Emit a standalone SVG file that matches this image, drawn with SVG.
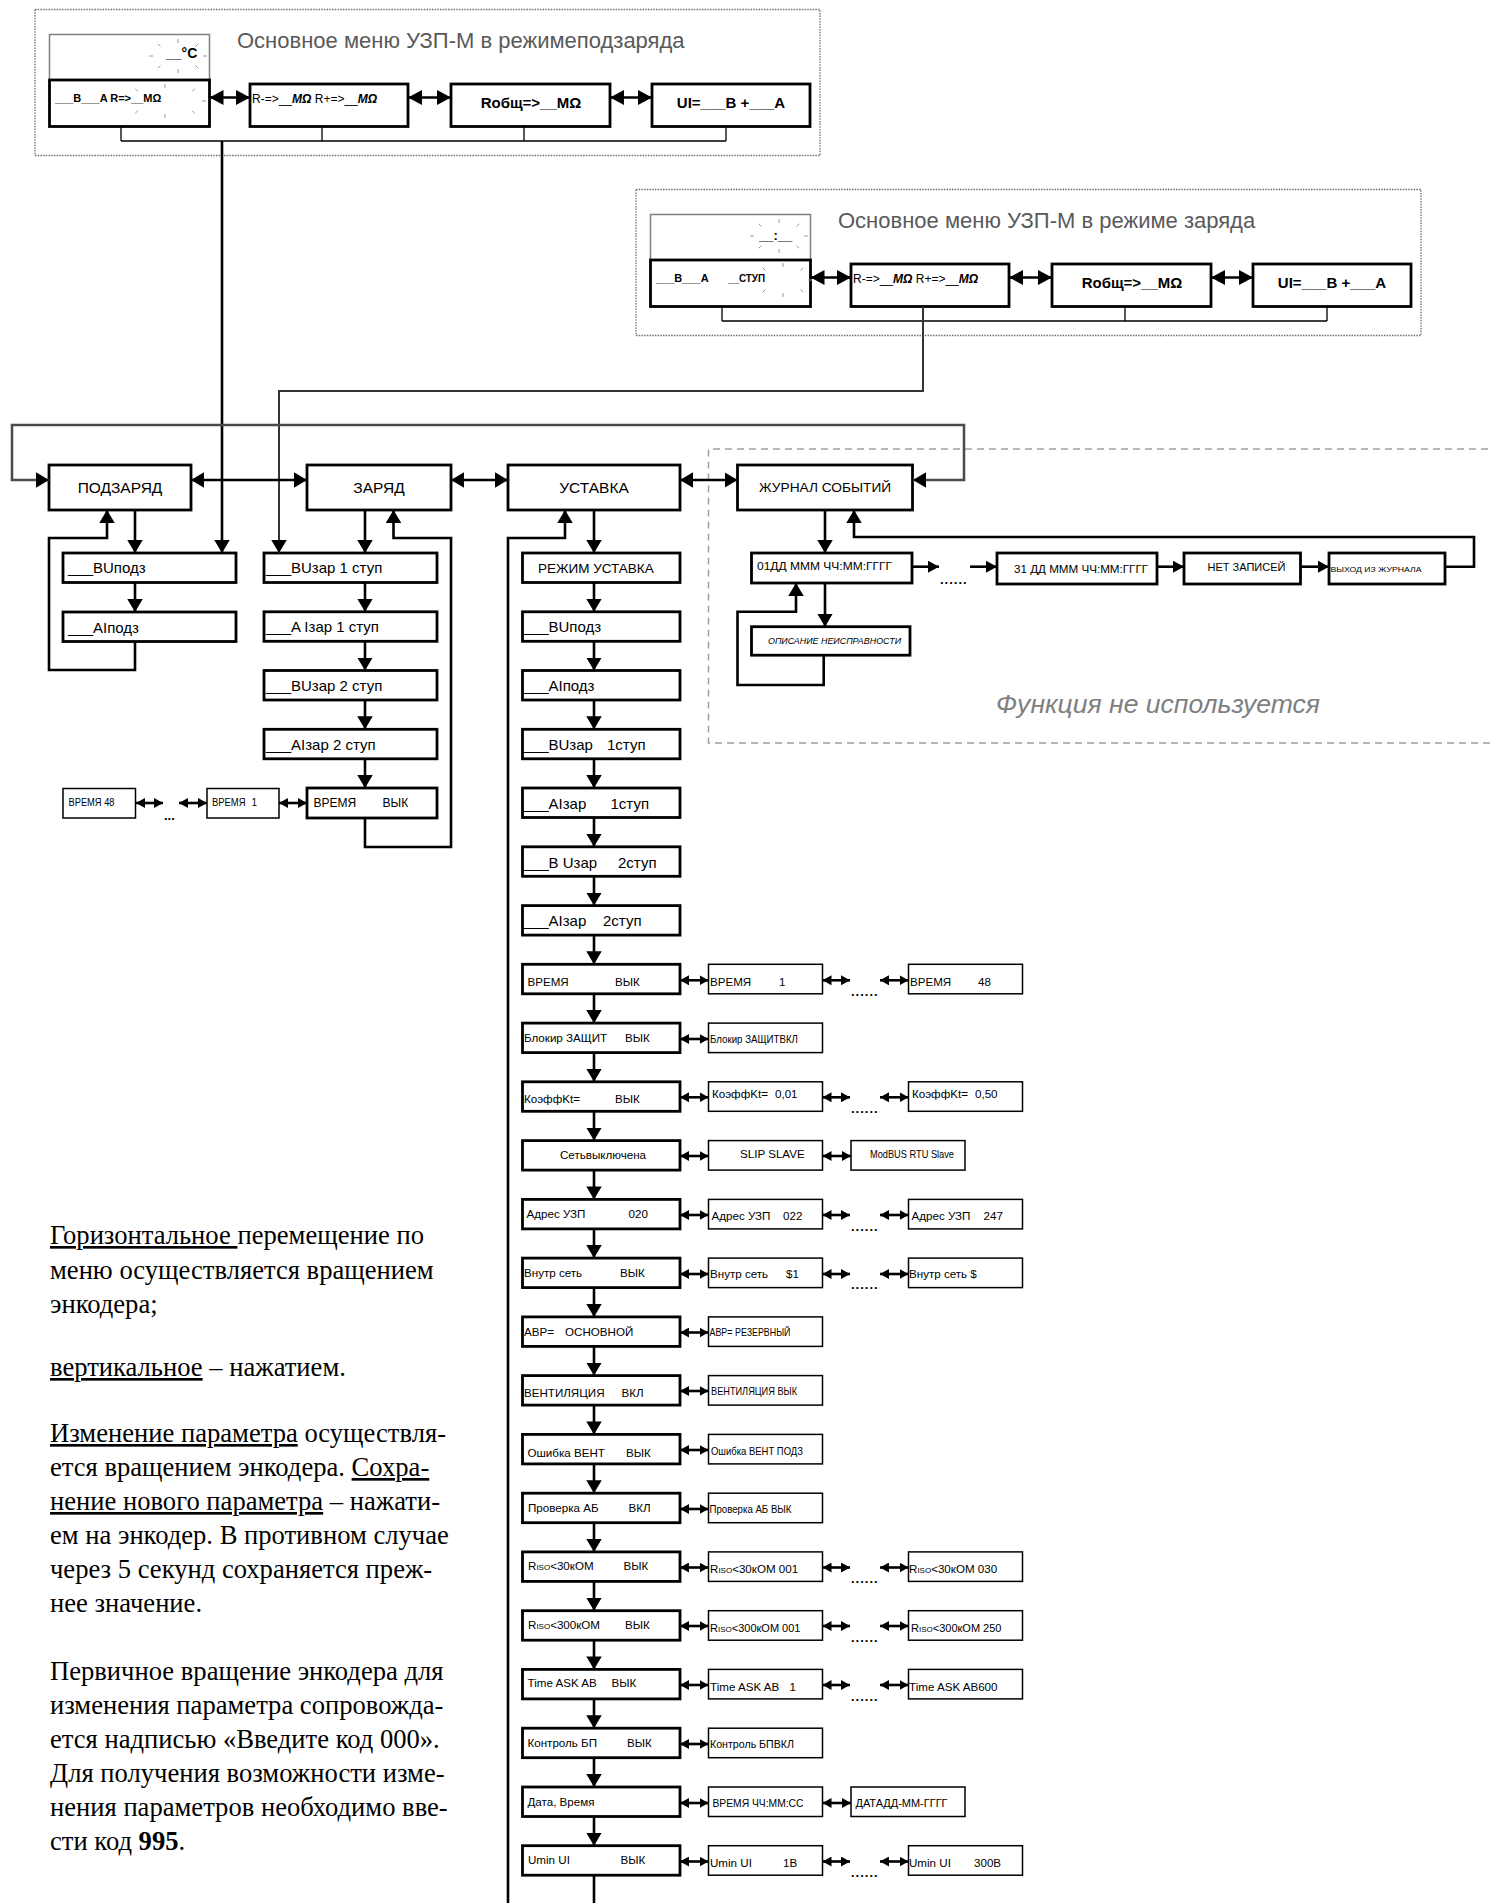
<svg xmlns="http://www.w3.org/2000/svg" width="1493" height="1903" viewBox="0 0 1493 1903">
<defs>
<style>
text{font-family:"Liberation Sans",Arial,sans-serif;fill:#000}
.bx{fill:#fff;stroke:#000;stroke-width:2.8}
.tb{fill:#fff;stroke:#000;stroke-width:1.5}
.disp{fill:#fff;stroke:#7f7f7f;stroke-width:1.5}
.frame{fill:none;stroke:#6f6f6f;stroke-width:1.3;stroke-dasharray:1.5 1.2}
.dash{fill:none;stroke:#a0a0a0;stroke-width:1.5;stroke-dasharray:7 5}
.ln{fill:none;stroke:#000;stroke-width:2.6}
.lg{fill:none;stroke:#4a4a4a;stroke-width:2.5}
.lc{fill:none;stroke:#333;stroke-width:2}
.lt{fill:none;stroke:#000;stroke-width:1.3}
.ray{fill:none;stroke:#9a9a9a;stroke-width:1}
.va{marker-end:url(#ab)}
.vb{marker-start:url(#ab);marker-end:url(#ab)}
.ds{marker-start:url(#as);marker-end:url(#as)}
.dt{marker-start:url(#at);marker-end:url(#at)}
.ja{marker-end:url(#aj)}
.title{font-size:22px;fill:#595959}
.b{font-weight:bold}
.m{font-size:11.6px}
.h{font-size:15px}
.c{font-size:11px}
.dots{font-size:13px;font-weight:bold;letter-spacing:1px}
.para{font-family:"Liberation Serif","Times New Roman",serif;font-size:26.6px}
.u{text-decoration:underline}
.sc{font-variant:small-caps}
.mid{text-anchor:middle}
</style>
<marker id="ab" viewBox="0 0 10 10" refX="10" refY="5" markerWidth="13" markerHeight="15.5" markerUnits="userSpaceOnUse" orient="auto-start-reverse" preserveAspectRatio="none"><path d="M0,0L10,5L0,10z"/></marker>
<marker id="at" viewBox="0 0 10 10" refX="10" refY="5" markerWidth="14" markerHeight="15" markerUnits="userSpaceOnUse" orient="auto-start-reverse" preserveAspectRatio="none"><path d="M0,0L10,5L0,10z"/></marker>
<marker id="as" viewBox="0 0 10 10" refX="10" refY="5" markerWidth="9" markerHeight="10" markerUnits="userSpaceOnUse" orient="auto-start-reverse" preserveAspectRatio="none"><path d="M0,0L10,5L0,10z"/></marker>
<marker id="aj" viewBox="0 0 10 10" refX="10" refY="5" markerWidth="11" markerHeight="12" markerUnits="userSpaceOnUse" orient="auto-start-reverse" preserveAspectRatio="none"><path d="M0,0L10,5L0,10z"/></marker>
<path id="rays" d="M25,0h4 M17.5,9.5l2.8,2.8 M0,13v4 M-17.5,9.5l-2.8,2.8 M-25,0h-4 M-17.5,-9.5l-2.8,-2.8 M0,-13v-4 M17.5,-9.5l2.8,-2.8"/>
<path id="rays2" d="M37,0h4 M27,9.5l2.8,2.8 M0,13v4 M-27,9.5l-2.8,2.8 M-27,-9.5l-2.8,-2.8 M0,-13v-4 M27,-9.5l2.8,-2.8"/>
</defs>
<rect width="1493" height="1903" fill="#fff"/>

<!-- Section 1: main menu, float-charge mode -->
<g id="menu-podzaryad">
<rect x="35" y="9.5" width="785" height="146" class="frame"/>
<text x="237" y="48" class="title">Основное меню УЗП-М в режимеподзаряда</text>
<g id="s1-display">
<rect x="49.5" y="34.5" width="160" height="45.5" class="disp"/>
<rect x="49.5" y="80" width="160" height="46.5" class="bx"/>
<use href="#rays" x="178" y="56" class="ray"/>
<use href="#rays2" x="165" y="101" class="ray"/>
<text x="166" y="58" class="b" font-size="14">__°C</text>
<text x="55" y="102" class="b c">___B___A R=&gt;__MΩ</text>
</g>
<g id="s1-r"><rect x="250" y="84" width="158" height="42.5" class="bx"/>
<text x="252" y="102.5" font-size="12">R-=&gt;__<tspan class="b" font-style="italic">MΩ</tspan> R+=&gt;__<tspan class="b" font-style="italic">MΩ</tspan></text></g>
<g id="s1-rtot"><rect x="451" y="84" width="159" height="42.5" class="bx"/>
<text x="531" y="108" class="b mid h">Rобщ=&gt;__MΩ</text></g>
<g id="s1-ui"><rect x="652" y="84" width="158" height="42.5" class="bx"/>
<text x="731" y="108" class="b mid h">UI=___B +___A</text></g>
</g>

<!-- Section 2: main menu, charge mode -->
<g id="menu-zaryad" transform="translate(601,180)">
<rect x="35" y="9.5" width="785" height="146" class="frame"/>
<text x="237" y="48" class="title">Основное меню УЗП-М в режиме заряда</text>
<g id="s2-display">
<rect x="49.5" y="34.5" width="160" height="45.5" class="disp"/>
<rect x="49.5" y="80" width="160" height="46.5" class="bx"/>
<use href="#rays" x="178" y="56" class="ray"/>
<use href="#rays" x="182" y="100" class="ray"/>
<text x="158" y="60" class="b" font-size="13">__:__</text>
<text x="55" y="102" class="b c">___B___A</text>
<text x="127" y="102" class="b c" textLength="37" lengthAdjust="spacingAndGlyphs">__СТУП</text>
</g>
<g id="s2-r"><rect x="250" y="84" width="158" height="42.5" class="bx"/>
<text x="252" y="102.5" font-size="12">R-=&gt;__<tspan class="b" font-style="italic">MΩ</tspan> R+=&gt;__<tspan class="b" font-style="italic">MΩ</tspan></text></g>
<g id="s2-rtot"><rect x="451" y="84" width="159" height="42.5" class="bx"/>
<text x="531" y="108" class="b mid h">Rобщ=&gt;__MΩ</text></g>
<g id="s2-ui"><rect x="652" y="84" width="158" height="42.5" class="bx"/>
<text x="731" y="108" class="b mid h">UI=___B +___A</text></g>
</g>

<!-- unused function frame -->
<g id="unused-frame">
<path d="M1500,449 H708.5 V743 H1500" class="dash"/>
<text x="996" y="713" font-size="26" font-style="italic" style="fill:#7f7f7f" textLength="324" lengthAdjust="spacingAndGlyphs">Функция не используется</text>
</g>

<!-- top-level menu -->
<g id="podzaryad"><rect x="49" y="465" width="142" height="45" class="bx"/><text x="120" y="493" class="mid" font-size="15.5">ПОДЗАРЯД</text></g>
<g id="zaryad"><rect x="307" y="465" width="144" height="45" class="bx"/><text x="379" y="493" class="mid" font-size="15.5">ЗАРЯД</text></g>
<g id="ustavka"><rect x="508" y="465" width="172" height="45" class="bx"/><text x="594" y="493" class="mid" font-size="15.5">УСТАВКА</text></g>
<g id="zhurnal"><rect x="737.5" y="465" width="175" height="45" class="bx"/><text x="825" y="492" class="mid" font-size="13.7">ЖУРНАЛ СОБЫТИЙ</text></g>

<!-- ПОДЗАРЯД branch -->
<g id="pz-u"><rect x="63" y="553" width="173" height="29.5" class="bx"/><text x="68" y="573" class="h">___BUподз</text></g>
<g id="pz-i"><rect x="63" y="612" width="173" height="29.5" class="bx"/><text x="68" y="632.5" class="h">___AIподз</text></g>

<!-- ЗАРЯД branch -->
<g id="z-u1"><rect x="264" y="553" width="173" height="29.5" class="bx"/><text x="266" y="573" class="h">___BUзар 1 ступ</text></g>
<g id="z-i1"><rect x="264" y="611.8" width="173" height="29.5" class="bx"/><text x="266" y="632" class="h">___A Iзар 1 ступ</text></g>
<g id="z-u2"><rect x="264" y="670.5" width="173" height="29.5" class="bx"/><text x="266" y="691" class="h">___BUзар 2 ступ</text></g>
<g id="z-i2"><rect x="264" y="729.3" width="173" height="29.5" class="bx"/><text x="266" y="750" class="h">___AIзар 2 ступ</text></g>
<g id="z-time"><rect x="307" y="788" width="130" height="30" class="bx"/><text x="313.5" y="807" font-size="12">ВРЕМЯ</text><text x="382.5" y="807" font-size="12">ВЫК</text></g>
<g id="z-time1"><rect x="207" y="788.5" width="72" height="29.5" class="tb"/><text x="212" y="806" font-size="10" textLength="33.5" lengthAdjust="spacingAndGlyphs">ВРЕМЯ</text><text x="251.5" y="806" font-size="10">1</text></g>
<g id="z-time48"><rect x="63" y="788.5" width="72.5" height="29.5" class="tb"/><text x="68.5" y="806" font-size="10" textLength="46" lengthAdjust="spacingAndGlyphs">ВРЕМЯ 48</text></g>
<text x="164" y="820" class="b" font-size="13">...</text>

<!-- УСТАВКА branch -->
<g id="u0"><rect x="522.5" y="553" width="157.5" height="29.5" class="bx"/><text x="538" y="573" font-size="13.5">РЕЖИМ УСТАВКА</text></g>
<g id="u1"><rect x="522.5" y="611.8" width="157.5" height="29.5" class="bx"/><text x="523.5" y="632" class="h">___BUподз</text></g>
<g id="u2"><rect x="522.5" y="670.5" width="157.5" height="29.5" class="bx"/><text x="523.5" y="691" class="h">___AIподз</text></g>
<g id="u3"><rect x="522.5" y="729.3" width="157.5" height="29.5" class="bx"/><text x="523.5" y="750" class="h">___BUзар</text><text x="607" y="750" class="h">1ступ</text></g>
<g id="u4"><rect x="522.5" y="788" width="157.5" height="29.5" class="bx"/><text x="523.5" y="808.5" class="h">___AIзар</text><text x="610.5" y="808.5" class="h">1ступ</text></g>
<g id="u5"><rect x="522.5" y="846.8" width="157.5" height="29.5" class="bx"/><text x="523.5" y="867.5" class="h">___B Uзар</text><text x="618" y="867.5" class="h">2ступ</text></g>
<g id="u6"><rect x="522.5" y="905.6" width="157.5" height="29.5" class="bx"/><text x="523.5" y="926" class="h">___AIзар</text><text x="603" y="926" class="h">2ступ</text></g>

<g id="u7"><rect x="522.5" y="964.3" width="157.5" height="29.5" class="bx"/><text x="527.5" y="986" class="m">ВРЕМЯ</text><text x="615" y="986" class="m">ВЫК</text></g>
<g id="u7a"><rect x="708.5" y="964.3" width="114" height="29.5" class="tb"/><text x="710" y="986" class="m">ВРЕМЯ</text><text x="779" y="986" class="m">1</text></g>
<g id="u7b"><rect x="908.5" y="964.3" width="114" height="29.5" class="tb"/><text x="910" y="986" class="m">ВРЕМЯ</text><text x="978" y="986" class="m">48</text></g>
<text x="851" y="995.5" class="dots">......</text>

<g id="u8"><rect x="522.5" y="1023.1" width="157.5" height="29.5" class="bx"/><text x="524" y="1041.6" class="m">Блокир ЗАЩИТ</text><text x="625" y="1041.6" class="m">ВЫК</text></g>
<g id="u8a"><rect x="708.5" y="1023.1" width="114" height="29.5" class="tb"/><text x="710" y="1043" class="c" textLength="88" lengthAdjust="spacingAndGlyphs">Блокир ЗАЩИТВКЛ</text></g>

<g id="u9"><rect x="522.5" y="1081.8" width="157.5" height="29.5" class="bx"/><text x="524" y="1103" class="m">КоэффKt=</text><text x="615" y="1103" class="m">ВЫК</text></g>
<g id="u9a"><rect x="708.5" y="1081.8" width="114" height="29.5" class="tb"/><text x="712" y="1098" class="m">КоэффKt=</text><text x="775" y="1098" class="m">0,01</text></g>
<g id="u9b"><rect x="908.5" y="1081.8" width="114" height="29.5" class="tb"/><text x="912" y="1098" class="m">КоэффKt=</text><text x="975" y="1098" class="m">0,50</text></g>
<text x="851" y="1112.5" class="dots">......</text>

<g id="u10"><rect x="522.5" y="1140.6" width="157.5" height="29.5" class="bx"/><text x="560" y="1158.5" class="m">Сетьвыключена</text></g>
<g id="u10a"><rect x="708.5" y="1140.6" width="114" height="29.5" class="tb"/><text x="740" y="1158" class="m">SLIP SLAVE</text></g>
<g id="u10b"><rect x="851" y="1140.6" width="114" height="29.5" class="tb"/><text x="870" y="1158" class="c" textLength="84" lengthAdjust="spacingAndGlyphs">ModBUS RTU Slave</text></g>

<g id="u11"><rect x="522.5" y="1199.4" width="157.5" height="29.5" class="bx"/><text x="526.5" y="1218" class="m">Адрес УЗП</text><text x="628.5" y="1218" class="m">020</text></g>
<g id="u11a"><rect x="708.5" y="1199.4" width="114" height="29.5" class="tb"/><text x="711.5" y="1220" class="m">Адрес УЗП</text><text x="783" y="1220" class="m">022</text></g>
<g id="u11b"><rect x="908.5" y="1199.4" width="114" height="29.5" class="tb"/><text x="911.5" y="1220" class="m">Адрес УЗП</text><text x="983.5" y="1220" class="m">247</text></g>
<text x="851" y="1230.5" class="dots">......</text>

<g id="u12"><rect x="522.5" y="1258.1" width="157.5" height="29.5" class="bx"/><text x="524" y="1276.7" class="m">Внутр сеть</text><text x="620" y="1276.7" class="m">ВЫК</text></g>
<g id="u12a"><rect x="708.5" y="1258.1" width="114" height="29.5" class="tb"/><text x="710" y="1278" class="m">Внутр сеть</text><text x="786" y="1278" class="m">$1</text></g>
<g id="u12b"><rect x="908.5" y="1258.1" width="114" height="29.5" class="tb"/><text x="909" y="1278" class="m">Внутр сеть $</text></g>
<text x="851" y="1289" class="dots">......</text>

<g id="u13"><rect x="522.5" y="1316.9" width="157.5" height="29.5" class="bx"/><text x="524" y="1336" class="m">АВР=</text><text x="565" y="1336" class="m">ОСНОВНОЙ</text></g>
<g id="u13a"><rect x="708.5" y="1316.9" width="114" height="29.5" class="tb"/><text x="709.5" y="1336" class="c" textLength="81" lengthAdjust="spacingAndGlyphs">АВР= РЕЗЕРВНЫЙ</text></g>

<g id="u14"><rect x="522.5" y="1375.6" width="157.5" height="29.5" class="bx"/><text x="524" y="1396.7" class="m">ВЕНТИЛЯЦИЯ</text><text x="621.5" y="1396.7" class="m">ВКЛ</text></g>
<g id="u14a"><rect x="708.5" y="1375.6" width="114" height="29.5" class="tb"/><text x="711" y="1395" class="c" textLength="86" lengthAdjust="spacingAndGlyphs">ВЕНТИЛЯЦИЯ ВЫК</text></g>

<g id="u15"><rect x="522.5" y="1434.4" width="157.5" height="29.5" class="bx"/><text x="527.5" y="1456.5" class="m">Ошибка ВЕНТ</text><text x="626" y="1456.5" class="m">ВЫК</text></g>
<g id="u15a"><rect x="708.5" y="1434.4" width="114" height="29.5" class="tb"/><text x="711" y="1455" class="c" textLength="92" lengthAdjust="spacingAndGlyphs">Ошибка ВЕНТ ПОДЗ</text></g>

<g id="u16"><rect x="522.5" y="1493.2" width="157.5" height="29.5" class="bx"/><text x="528" y="1511.7" class="m">Проверка АБ</text><text x="628.5" y="1511.7" class="m">ВКЛ</text></g>
<g id="u16a"><rect x="708.5" y="1493.2" width="114" height="29.5" class="tb"/><text x="709.5" y="1513" class="c" textLength="82" lengthAdjust="spacingAndGlyphs">Проверка АБ ВЫК</text></g>

<g id="u17"><rect x="522.5" y="1551.9" width="157.5" height="29.5" class="bx"/><text x="528" y="1570" class="m">R<tspan class="sc">iso</tspan>&lt;30кОМ</text><text x="623.5" y="1570" class="m">ВЫК</text></g>
<g id="u17a"><rect x="708.5" y="1551.9" width="114" height="29.5" class="tb"/><text x="710" y="1573" class="m">R<tspan class="sc">iso</tspan>&lt;30кОМ 001</text></g>
<g id="u17b"><rect x="908.5" y="1551.9" width="114" height="29.5" class="tb"/><text x="909" y="1573" class="m">R<tspan class="sc">iso</tspan>&lt;30кОМ 030</text></g>
<text x="851" y="1583" class="dots">......</text>

<g id="u18"><rect x="522.5" y="1610.7" width="157.5" height="29.5" class="bx"/><text x="528" y="1629" class="m">R<tspan class="sc">iso</tspan>&lt;300кОМ</text><text x="625" y="1629" class="m">ВЫК</text></g>
<g id="u18a"><rect x="708.5" y="1610.7" width="114" height="29.5" class="tb"/><text x="710" y="1631.5" class="c">R<tspan class="sc">iso</tspan>&lt;300кОМ 001</text></g>
<g id="u18b"><rect x="908.5" y="1610.7" width="114" height="29.5" class="tb"/><text x="911" y="1631.5" class="c">R<tspan class="sc">iso</tspan>&lt;300кОМ 250</text></g>
<text x="851" y="1642" class="dots">......</text>

<g id="u19"><rect x="522.5" y="1669.4" width="157.5" height="29.5" class="bx"/><text x="527.5" y="1687" class="m">Time ASK AB</text><text x="611.5" y="1687" class="m">ВЫК</text></g>
<g id="u19a"><rect x="708.5" y="1669.4" width="114" height="29.5" class="tb"/><text x="710" y="1690.5" class="m">Time ASK AB</text><text x="789.5" y="1690.5" class="m">1</text></g>
<g id="u19b"><rect x="908.5" y="1669.4" width="114" height="29.5" class="tb"/><text x="909" y="1690.5" class="m">Time ASK AB600</text></g>
<text x="851" y="1700.5" class="dots">......</text>

<g id="u20"><rect x="522.5" y="1728.2" width="157.5" height="29.5" class="bx"/><text x="527.5" y="1746.7" class="m">Контроль БП</text><text x="627" y="1746.7" class="m">ВЫК</text></g>
<g id="u20a"><rect x="708.5" y="1728.2" width="114" height="29.5" class="tb"/><text x="710" y="1748" class="m" textLength="84" lengthAdjust="spacingAndGlyphs">Контроль БПВКЛ</text></g>

<g id="u21"><rect x="522.5" y="1787" width="157.5" height="29.5" class="bx"/><text x="527.5" y="1805.7" class="m">Дата, Время</text></g>
<g id="u21a"><rect x="708.5" y="1787" width="114" height="29.5" class="tb"/><text x="712.5" y="1807" font-size="10.5" textLength="91" lengthAdjust="spacingAndGlyphs">ВРЕМЯ ЧЧ:ММ:СС</text></g>
<g id="u21b"><rect x="851" y="1787" width="114" height="29.5" class="tb"/><text x="855.5" y="1807" font-size="11.5" textLength="92" lengthAdjust="spacingAndGlyphs">ДАТАДД-ММ-ГГГГ</text></g>

<g id="u22"><rect x="522.5" y="1845.7" width="157.5" height="29.5" class="bx"/><text x="528" y="1864" class="m">Umin UI</text><text x="620.5" y="1864" class="m">ВЫК</text></g>
<g id="u22a"><rect x="708.5" y="1845.7" width="114" height="29.5" class="tb"/><text x="710" y="1866.5" class="m">Umin UI</text><text x="783" y="1866.5" class="m">1В</text></g>
<g id="u22b"><rect x="908.5" y="1845.7" width="114" height="29.5" class="tb"/><text x="909" y="1866.5" class="m">Umin UI</text><text x="974" y="1866.5" class="m">300В</text></g>
<text x="851" y="1877" class="dots">......</text>

<!-- Journal -->
<g id="j-01"><rect x="751.5" y="553" width="160.5" height="30" class="bx"/><text x="757" y="570" class="c" textLength="135" lengthAdjust="spacingAndGlyphs">01ДД МММ ЧЧ:ММ:ГГГГ</text></g>
<g id="j-31"><rect x="997" y="553" width="160" height="31" class="bx"/><text x="1014" y="573" class="c" textLength="134" lengthAdjust="spacingAndGlyphs">31 ДД МММ ЧЧ:ММ:ГГГГ</text></g>
<g id="j-none"><rect x="1184" y="553" width="116.5" height="31" class="bx"/><text x="1207.5" y="571" font-size="11.5" textLength="78" lengthAdjust="spacingAndGlyphs">НЕТ ЗАПИСЕЙ</text></g>
<g id="j-exit"><rect x="1329" y="553" width="116" height="31" class="bx"/><text x="1330.5" y="571.5" font-size="8" textLength="91" lengthAdjust="spacingAndGlyphs">ВЫХОД ИЗ ЖУРНАЛА</text></g>
<g id="j-desc"><rect x="751.5" y="626.7" width="158.5" height="28.5" class="bx"/><text x="768" y="644" font-size="9" font-style="italic" textLength="133" lengthAdjust="spacingAndGlyphs">ОПИСАНИЕ НЕИСПРАВНОСТИ</text></g>
<text x="940" y="584" class="dots" font-size="12">......</text>

<!-- Help text -->
<g id="help-text">
<text x="50" y="1244" class="para"><tspan class="u">Горизонтальное </tspan>перемещение по</text>
<text x="50" y="1278.5" class="para">меню осуществляется вращением</text>
<text x="50" y="1313" class="para">энкодера;</text>
<text x="50" y="1376" class="para"><tspan class="u">вертикальное</tspan> – нажатием.</text>
<text x="50" y="1442" class="para"><tspan class="u">Изменение параметра</tspan> осуществля-</text>
<text x="50" y="1476" class="para">ется вращением энкодера. <tspan class="u">Сохра-</tspan></text>
<text x="50" y="1510" class="para"><tspan class="u">нение нового параметра</tspan> – нажати-</text>
<text x="50" y="1544" class="para">ем на энкодер. В противном случае</text>
<text x="50" y="1578" class="para">через 5 секунд сохраняется преж-</text>
<text x="50" y="1612" class="para">нее значение.</text>
<text x="50" y="1680" class="para">Первичное вращение энкодера для</text>
<text x="50" y="1714" class="para">изменения параметра сопровожда-</text>
<text x="50" y="1748" class="para">ется надписью «Введите код 000».</text>
<text x="50" y="1782" class="para">Для получения возможности изме-</text>
<text x="50" y="1816" class="para">нения параметров необходимо вве-</text>
<text x="50" y="1850" class="para">сти код <tspan font-weight="bold">995</tspan>.</text>
</g>

<!-- Connectors -->
<g id="connectors">
<g>
<path d="M121,126.5V141 M322,126.5V141 M524,126.5V141 M726,126.5V141 M121,141H726" class="lt"/>
<path d="M209.5,97.5H250" class="ln dt"/>
<path d="M408,97.5H451" class="ln dt"/>
<path d="M610,97.5H652" class="ln dt"/>
</g>
<g transform="translate(601,180)">
<path d="M121,126.5V141 M524,126.5V141 M726,126.5V141 M121,141H726" class="lt"/>
<path d="M209.5,97.5H250" class="ln dt"/>
<path d="M408,97.5H451" class="ln dt"/>
<path d="M610,97.5H652" class="ln dt"/>
</g>
<path d="M222,141V553" class="ln va"/>
<path d="M923,306.5V391H279V553" class="lc va"/>
<path d="M913,480H964V425H12V480H49" class="lg vb"/>
<path d="M191,480H307" class="ln vb"/>
<path d="M451,480H508" class="ln vb"/>
<path d="M680,480H737.5" class="ln vb"/>

<path d="M135,510V553" class="ln va"/>
<path d="M135,582.5V612" class="ln va"/>
<path d="M135,641.5V670H49V538H107V510" class="ln va"/>

<path d="M365,510V553" class="ln va"/>
<path d="M365,582.5V611.8" class="ln va"/>
<path d="M365,641.3V670.5" class="ln va"/>
<path d="M365,700V729.3" class="ln va"/>
<path d="M365,758.8V788" class="ln va"/>
<path d="M365,818V847H451V538H393.5V510" class="ln va"/>
<path d="M136,803H163" class="ln ds"/>
<path d="M179,803H207" class="ln ds"/>
<path d="M279,803H307" class="ln ds"/>

<path d="M594,510V553" class="ln va"/>
<path d="M508,1910V538H565V510" class="ln va"/>
<path d="M594,582.5V611.8" class="ln va"/>
<path d="M594,641.3V670.5" class="ln va"/>
<path d="M594,700V729.3" class="ln va"/>
<path d="M594,758.8V788" class="ln va"/>
<path d="M594,817.5V846.8" class="ln va"/>
<path d="M594,876.3V905.6" class="ln va"/>
<path d="M594,935.1V964.3" class="ln va"/>
<path d="M594,993.8V1023.1" class="ln va"/>
<path d="M594,1052.6V1081.8" class="ln va"/>
<path d="M594,1111.3V1140.6" class="ln va"/>
<path d="M594,1170.1V1199.4" class="ln va"/>
<path d="M594,1228.9V1258.1" class="ln va"/>
<path d="M594,1287.6V1316.9" class="ln va"/>
<path d="M594,1346.4V1375.6" class="ln va"/>
<path d="M594,1405.1V1434.4" class="ln va"/>
<path d="M594,1463.9V1493.2" class="ln va"/>
<path d="M594,1522.7V1551.9" class="ln va"/>
<path d="M594,1581.4V1610.7" class="ln va"/>
<path d="M594,1640.2V1669.4" class="ln va"/>
<path d="M594,1698.9V1728.2" class="ln va"/>
<path d="M594,1757.7V1787" class="ln va"/>
<path d="M594,1816.5V1845.7" class="ln va"/>
<path d="M594,1875.2V1910" class="ln"/>

<path d="M680,980.3H708.5" class="ln ds"/><path d="M822.5,980.3H850" class="ln ds"/><path d="M880,980.3H908.5" class="ln ds"/>
<path d="M680,1039H708.5" class="ln ds"/>
<path d="M680,1097.3H708.5" class="ln ds"/><path d="M822.5,1097.3H850" class="ln ds"/><path d="M880,1097.3H908.5" class="ln ds"/>
<path d="M680,1156H708.5" class="ln ds"/><path d="M822.5,1156H851" class="ln ds"/>
<path d="M680,1215H708.5" class="ln ds"/><path d="M822.5,1215H850" class="ln ds"/><path d="M880,1215H908.5" class="ln ds"/>
<path d="M680,1274H708.5" class="ln ds"/><path d="M822.5,1274H850" class="ln ds"/><path d="M880,1274H908.5" class="ln ds"/>
<path d="M680,1332.5H708.5" class="ln ds"/>
<path d="M680,1391H708.5" class="ln ds"/>
<path d="M680,1450H708.5" class="ln ds"/>
<path d="M680,1509H708.5" class="ln ds"/>
<path d="M680,1567.5H708.5" class="ln ds"/><path d="M822.5,1567.5H850" class="ln ds"/><path d="M880,1567.5H908.5" class="ln ds"/>
<path d="M680,1626H708.5" class="ln ds"/><path d="M822.5,1626H850" class="ln ds"/><path d="M880,1626H908.5" class="ln ds"/>
<path d="M680,1685H708.5" class="ln ds"/><path d="M822.5,1685H850" class="ln ds"/><path d="M880,1685H908.5" class="ln ds"/>
<path d="M680,1744H708.5" class="ln ds"/>
<path d="M680,1803H708.5" class="ln ds"/><path d="M822.5,1803H851" class="ln ds"/>
<path d="M680,1861.5H708.5" class="ln ds"/><path d="M822.5,1861.5H850" class="ln ds"/><path d="M880,1861.5H908.5" class="ln ds"/>

<path d="M825,510V553" class="ln va"/>
<path d="M912,566.7H939" class="ln ja"/>
<path d="M970,566.7H997" class="ln ja"/>
<path d="M1157,566.7H1184" class="ln ja"/>
<path d="M1300.5,566.7H1329" class="ln ja"/>
<path d="M1445,566.7H1474V537H854V510" class="ln va"/>
<path d="M825,583V626.7" class="ln va"/>
<path d="M823.7,655.2V685H737.5V611.7H796V583" class="ln va"/>
</g>
</svg>
